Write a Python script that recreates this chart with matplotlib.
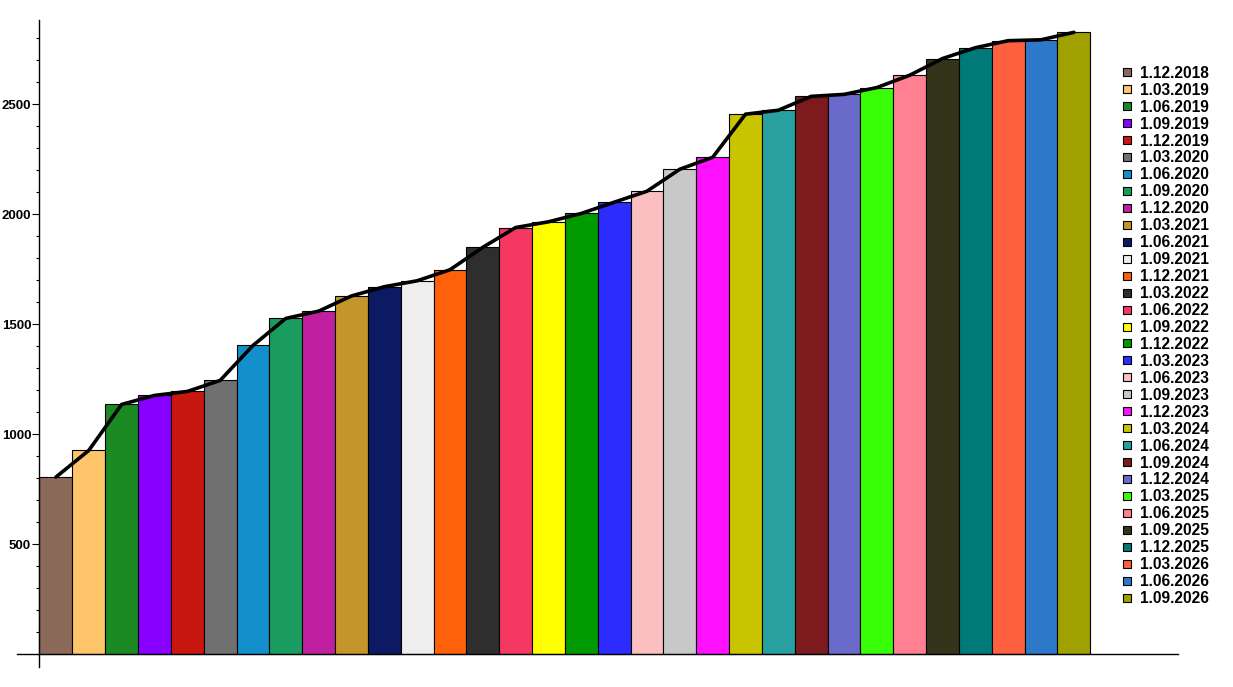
import matplotlib
matplotlib.use("Agg")
import matplotlib.pyplot as plt
from matplotlib.lines import Line2D
from matplotlib.ticker import MultipleLocator, FixedLocator
import numpy as np

dates = [
    "1.12.2018", "1.03.2019", "1.06.2019", "1.09.2019", "1.12.2019",
    "1.03.2020", "1.06.2020", "1.09.2020", "1.12.2020", "1.03.2021",
    "1.06.2021", "1.09.2021", "1.12.2021", "1.03.2022", "1.06.2022",
    "1.09.2022", "1.12.2022", "1.03.2023", "1.06.2023", "1.09.2023",
    "1.12.2023", "1.03.2024", "1.06.2024", "1.09.2024", "1.12.2024",
    "1.03.2025", "1.06.2025", "1.09.2025", "1.12.2025", "1.03.2026",
    "1.06.2026", "1.09.2026",
]
values = [
    806, 927, 1136, 1177, 1195, 1245, 1404, 1527, 1560, 1629,
    1671, 1698, 1748, 1850, 1940, 1966, 2004, 2055, 2105, 2205,
    2259, 2455, 2473, 2536, 2545, 2576, 2632, 2708, 2757, 2789,
    2793, 2827,
]
colors = [
    "#8c6a5a", "#ffc56a", "#1b8a22", "#8800ff", "#c8170e",
    "#707070", "#1390cc", "#1a9c60", "#c020a0", "#c4962a",
    "#0b1a62", "#eeeeee", "#ff600a", "#2e2e2e", "#f53862",
    "#ffff00", "#009a00", "#2c2cff", "#fbbfbf", "#c8c8c8",
    "#ff10ff", "#c8c400", "#28a0a0", "#7c1a1e", "#6a6aca",
    "#38ff08", "#ff8090", "#33351a", "#007a78", "#ff6040",
    "#2e78c8", "#a0a000",
]

W, H = 1233, 687
fig = plt.figure(figsize=(W / 100, H / 100), dpi=100)
# axes box in pixels: x 17..1178, y 20..667
ax = fig.add_axes([17 / W, (H - 667) / H, (1178 - 17) / W, (667 - 20) / H])

x = np.arange(len(values))
ax.bar(x, values, width=1.0, align="edge", color=colors,
       edgecolor="black", linewidth=0.8, zorder=2)
ax.plot(x + 0.5, values, color="black", linewidth=2.6,
        solid_joinstyle="round", solid_capstyle="round", zorder=3)

ax.set_xlim(-0.685, 34.67)
ax.set_ylim(-57, 2883)

for s in ["top", "right"]:
    ax.spines[s].set_visible(False)
ax.spines["left"].set_position(("data", 0))
ax.spines["bottom"].set_position(("data", 0))
ax.spines["left"].set_linewidth(1.0)
ax.spines["bottom"].set_linewidth(1.0)

ax.set_xticks([])
ax.yaxis.set_major_locator(FixedLocator([500, 1000, 1500, 2000, 2500]))
ax.yaxis.set_minor_locator(MultipleLocator(100))
ax.tick_params(axis="y", which="major", length=5, width=0.8, pad=1,
               labelsize=9.5)
ax.tick_params(axis="y", which="minor", length=2, width=0.8)
for lbl in ax.get_yticklabels():
    lbl.set_fontweight("bold")
    lbl.set_family("Liberation Sans")

handles = [
    Line2D([], [], linestyle="none", marker="s", markersize=5.5,
           markerfacecolor=c, markeredgecolor="black", markeredgewidth=0.8)
    for c in colors
]
leg = fig.legend(handles, dates, loc="upper left",
                 bbox_to_anchor=(1113 / W, 1 - 58 / H),
                 frameon=False, handlelength=0.8, handletextpad=0.45,
                 labelspacing=0.125, borderpad=0,
                 prop={"family": "Liberation Sans", "weight": "bold",
                       "size": 11.2})

fig.savefig("out.png", dpi=100)
